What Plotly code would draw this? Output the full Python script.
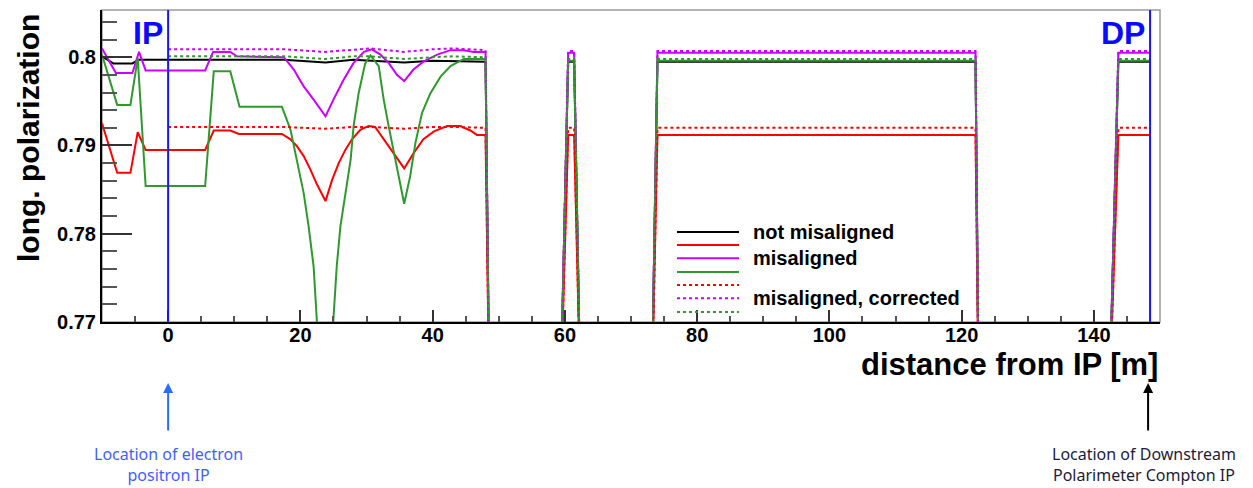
import plotly.graph_objects as go

# ---------------------------------------------------------------
# Longitudinal polarisation along the beam line (distance from IP)
# ---------------------------------------------------------------

# Value used where the beam is not tracked (off the bottom of the frame)
LOW = 0.76

# Section around the IP (x in metres)
BLACK_X = [-10, -8.3, -5.4, -4.5, 17.5, 23.8, 28.0, 35.7, 40.0, 48.0]
BLACK_Y = [0.8001, 0.7993, 0.7993, 0.7997, 0.7997, 0.7994, 0.7997, 0.7994, 0.7996, 0.7995]

RED_X = [-10, -7.7, -5.7, -4.6, -3.4, 5.6, 6.9, 9.4, 10.7, 17.2, 18.5, 19.5, 20.5, 21.5,
         22.5, 23.8, 24.8, 25.8, 26.8, 27.8, 29.1, 30.3, 31.3, 32.6, 34.1, 35.7, 37.1,
         38.6, 40.2, 42.2, 44.2, 45.7, 46.7, 48.0]
RED_Y = [0.7925, 0.7869, 0.7869, 0.7915, 0.7895, 0.7895, 0.7917, 0.7917, 0.7913, 0.7913,
         0.7907, 0.7899, 0.7888, 0.7873, 0.7856, 0.7837, 0.7861, 0.7880, 0.7895, 0.7907,
         0.7918, 0.7922, 0.7921, 0.7907, 0.7891, 0.7874, 0.7891, 0.7907, 0.7916, 0.7922,
         0.7922, 0.7917, 0.7912, 0.7912]

MAGENTA_X = [-10, -7.9, -5.4, -4.4, -3.4, 5.6, 6.8, 9.4, 10.4, 17.5, 19.0, 20.5, 22.0,
             23.8, 25.0, 26.5, 28.0, 29.6, 30.8, 32.1, 33.4, 34.6, 35.7, 37.1, 38.6,
             40.7, 42.7, 44.7, 46.2, 48.0]
MAGENTA_Y = [0.8010, 0.7982, 0.7982, 0.8006, 0.7985, 0.7985, 0.8006, 0.8006, 0.8001,
             0.8000, 0.7986, 0.7967, 0.7952, 0.7933, 0.7952, 0.7974, 0.7993, 0.8006,
             0.8009, 0.8003, 0.7993, 0.7980, 0.7973, 0.7986, 0.7995, 0.8003, 0.8008,
             0.8008, 0.8006, 0.8006]

GREEN_X = [-10, -7.7, -5.7, -4.6, -3.4, 5.6, 6.9, 9.4, 10.8, 17.2, 18.5, 19.5, 20.5,
           21.25, 22.0, 23.7, 25.5, 26.05, 26.8, 27.6, 28.05, 28.8, 29.8, 30.6, 31.85,
           32.6, 33.35, 34.1, 34.9, 35.7, 36.6, 37.4, 38.4, 39.65, 41.2, 42.7, 44.7, 48.0]
GREEN_Y = [0.8003, 0.7946, 0.7946, 0.7999, 0.7854, 0.7854, 0.7984, 0.7984, 0.7944,
           0.7944, 0.7918, 0.7880, 0.7846, 0.7808, 0.7763, 0.7550, 0.7763, 0.7808,
           0.7846, 0.7884, 0.7922, 0.7959, 0.7993, 0.8002, 0.7990, 0.7952, 0.7922,
           0.7895, 0.7865, 0.7834, 0.7865, 0.7903, 0.7937, 0.7959, 0.7978, 0.7990,
           0.7998, 0.7998]

CORR_X = [0, 17.5, 23.8, 28.0, 30.5, 35.7, 40.0, 43.0, 48.0]
RED_CORR_Y = [0.7921, 0.7921, 0.7919, 0.7921, 0.7921, 0.7919, 0.7921, 0.7921, 0.7920]
MAGENTA_CORR_Y = [0.8009, 0.8009, 0.8006, 0.8009, 0.8010, 0.8006, 0.8009, 0.8010, 0.8008]
GREEN_CORR_Y = [0.8001, 0.8001, 0.7998, 0.8001, 0.8001, 0.7998, 0.8000, 0.8001, 0.8000]

# Downstream sections: beam-line positions where tracking resumes / stops
DOWNSTREAM_X = [48.6, 59.3, 60.5, 61.4, 62.4, 73.1, 74.0, 122.1, 122.6, 142.3, 143.7, 148.5]
# Polarisation on the downstream plateaus for each curve
PLATEAU = {
    "black": 0.7995,
    "red": 0.7912,
    "magenta": 0.8005,
    "green": 0.7996,
    "red_corr": 0.7920,
    "magenta_corr": 0.8007,
    "green_corr": 0.7998,
}

IP_X = 0.0
DP_X = 148.5
DP_ARROW_X = 148.2


def downstream(p):
    """y values for the downstream part of a curve with plateau value p."""
    return [LOW, LOW, p, p, LOW, LOW, p, p, LOW, LOW, p, p]


series = [
    ("not misaligned", BLACK_X, BLACK_Y, PLATEAU["black"], "#000000", "solid"),
    ("misaligned", RED_X, RED_Y, PLATEAU["red"], "#ff0000", "solid"),
    ("misaligned", MAGENTA_X, MAGENTA_Y, PLATEAU["magenta"], "#cc00ff", "solid"),
    ("misaligned", GREEN_X, GREEN_Y, PLATEAU["green"], "#2e9a2e", "solid"),
    ("misaligned, corrected", CORR_X, RED_CORR_Y, PLATEAU["red_corr"], "#ff0000", "dot"),
    ("misaligned, corrected", CORR_X, MAGENTA_CORR_Y, PLATEAU["magenta_corr"], "#cc00ff", "dot"),
    ("misaligned, corrected", CORR_X, GREEN_CORR_Y, PLATEAU["green_corr"], "#2e9a2e", "dot"),
]

fig = go.Figure()
for name, xs, ys, plateau, color, dash in series:
    fig.add_trace(go.Scatter(
        x=list(xs) + DOWNSTREAM_X,
        y=list(ys) + downstream(plateau),
        mode="lines",
        name=name,
        line=dict(color=color, width=2, dash=dash),
        showlegend=False,
        hoverinfo="skip",
    ))

# ---- geometry helpers (plot area in pixels) ----
W, H = 1253, 488
ML, MR, MT, MB = 102, 93, 10, 166
PW, PH = W - ML - MR, H - MT - MB


def px_x(px):
    return (px - ML) / PW


def px_y(py):
    return (H - MB - py) / PH


shapes = []
# frame (top/right drawn grey, left/bottom come from the axis lines)
shapes.append(dict(type="rect", xref="paper", yref="paper", x0=0, x1=1, y0=0, y1=1,
                   line=dict(color="#9a9a9a", width=1.5), layer="below"))
# IP and DP markers
for xv in (IP_X, DP_X):
    shapes.append(dict(type="line", xref="x", yref="paper", x0=xv, x1=xv, y0=0, y1=1,
                       line=dict(color="#1414ff", width=2), layer="above"))

# legend samples
leg_x0, leg_x1 = px_x(677), px_x(739)
leg_rows = [232, 245, 258.3, 272, 285, 298.3, 312]
for (name, xs, ys, plateau, color, dash), row in zip(series, leg_rows):
    shapes.append(dict(type="line", xref="paper", yref="paper",
                       x0=leg_x0, x1=leg_x1, y0=px_y(row), y1=px_y(row),
                       line=dict(color=color, width=2, dash=dash), layer="above"))

bold = dict(family="Liberation Sans, Arial, sans-serif", color="black", weight="bold")
hand = "Comic Sans MS, Noto Sans, sans-serif"

annotations = [
    # axis titles
    dict(text="long. polarization", xref="paper", yref="paper", x=px_x(28), y=px_y(138),
         textangle=-90, showarrow=False, xanchor="center", yanchor="middle",
         font=dict(bold, size=30)),
    dict(text="distance from IP [m]", xref="paper", yref="paper", x=1.0, y=px_y(364),
         showarrow=False, xanchor="right", yanchor="middle", font=dict(bold, size=31)),
    # IP / DP labels
    dict(text="IP", xref="paper", yref="paper", x=px_x(148), y=px_y(33.5), showarrow=False,
         xanchor="center", yanchor="middle", font=dict(bold, size=32, color="#0a0aff")),
    dict(text="DP", xref="paper", yref="paper", x=px_x(1123), y=px_y(33.5), showarrow=False,
         xanchor="center", yanchor="middle", font=dict(bold, size=32, color="#0a0aff")),
    # legend texts
    dict(text="not misaligned", xref="paper", yref="paper", x=px_x(751), y=px_y(231.7),
         showarrow=False, xanchor="left", yanchor="middle", font=dict(bold, size=20)),
    dict(text="misaligned", xref="paper", yref="paper", x=px_x(751), y=px_y(258.3),
         showarrow=False, xanchor="left", yanchor="middle", font=dict(bold, size=20)),
    dict(text="misaligned, corrected", xref="paper", yref="paper", x=px_x(751), y=px_y(298.3),
         showarrow=False, xanchor="left", yanchor="middle", font=dict(bold, size=20)),
    # arrows below the axis
    dict(text="", xref="x", yref="paper", x=IP_X, y=px_y(383), ax=0, ay=49,
         showarrow=True, arrowhead=2, arrowsize=1, arrowwidth=2, arrowcolor="#2a6cff",
         standoff=0, startstandoff=0),
    dict(text="", xref="x", yref="paper", x=DP_ARROW_X, y=px_y(383), ax=0, ay=49,
         showarrow=True, arrowhead=2, arrowsize=1, arrowwidth=2, arrowcolor="#000000",
         standoff=0, startstandoff=0),
    # captions below the arrows
    dict(text="Location of electron<br>positron IP", xref="x", yref="paper", x=IP_X,
         y=px_y(464), showarrow=False, xanchor="center", yanchor="middle",
         font=dict(family=hand, size=16, color="#3f5fff")),
    dict(text="Location of Downstream<br>Polarimeter Compton IP", xref="x", yref="paper",
         x=147.6, y=px_y(464), showarrow=False, xanchor="center", yanchor="middle",
         font=dict(family=hand, size=16, color="#1c1c3c")),
]

fig.update_layout(
    width=W, height=H,
    margin=dict(l=ML, r=MR, t=MT, b=MB, pad=0),
    paper_bgcolor="white", plot_bgcolor="white",
    font=dict(family="Liberation Sans, Arial, sans-serif", color="black"),
    shapes=shapes,
    annotations=annotations,
    showlegend=False,
)

fig.update_xaxes(
    range=[-10, 150], tick0=0, dtick=20,
    showgrid=False, zeroline=False,
    showline=True, linecolor="black", linewidth=2,
    ticks="inside", ticklen=12, tickwidth=1.5, tickcolor="#333333",
    tickfont=dict(bold, size=20), ticklabelstandoff=-6,
    minor=dict(dtick=5, ticks="inside", ticklen=6, tickwidth=1.5, tickcolor="#555555",
               showgrid=False),
)
fig.update_yaxes(
    range=[0.77, 0.80535], tick0=0.77, dtick=0.01,
    showgrid=False, zeroline=False,
    showline=True, linecolor="black", linewidth=2,
    ticks="inside", ticklen=30, tickwidth=1.5, tickcolor="#333333",
    tickfont=dict(bold, size=20),
    minor=dict(dtick=0.002, ticks="inside", ticklen=15, tickwidth=1.5, tickcolor="#555555",
               showgrid=False),
)

fig.write_html("out.html")
